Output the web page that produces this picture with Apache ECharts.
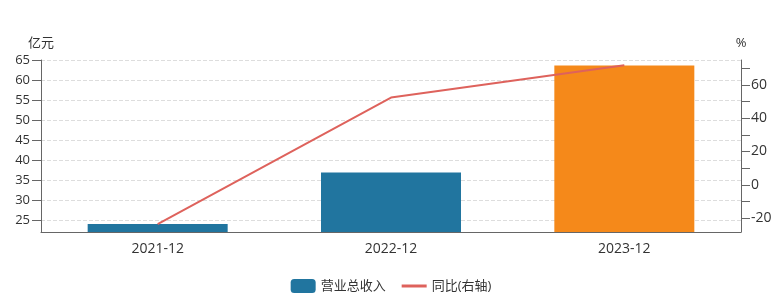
<!DOCTYPE html>
<html><head><meta charset="utf-8">
<script src="https://cdn.jsdelivr.net/npm/echarts@6/dist/echarts.min.js"></script>
<style>html,body{margin:0;padding:0;background:#fff}#c{width:782px;height:302px}</style>
</head><body><div id="c"></div>
<script>
var categories = ['2021-12', '2022-12', '2023-12'];
var revenue = [24.0, 36.9, 63.6];
var yoy = [-23.6, 52.4, 71.9];
var barColors = ['#21759f', '#21759f', '#f5891a'];
var leftMin = 22, leftMax = 65;
var rightMin = -28.4, rightMax = 75;

var chart = echarts.init(document.getElementById('c'));
var fontFam = '"Open Sans", "Noto Sans CJK SC", sans-serif';
chart.setOption({
  animation: false,
  textStyle: {fontFamily: fontFam},
  grid: {left: 41, right: 41, top: 60, bottom: 70},
  legend: {
    top: 274, left: 'center', itemWidth: 25, itemHeight: 14, itemGap: 16,
    textStyle: {fontSize: 13, color: '#333', fontFamily: fontFam},
    data: [{name: '营业总收入', icon: 'roundRect'},
           {name: '同比(右轴)', icon: 'path://M0,0 L25,0 L25,3 L0,3 Z', itemStyle: {color: '#de625c'}}]
  },
  xAxis: {
    type: 'category', data: categories,
    axisLine: {onZero: false, lineStyle: {color: '#666'}},
    axisTick: {alignWithLabel: true, length: 5, lineStyle: {color: '#666'}},
    axisLabel: {color: '#333', fontSize: 14, margin: 10}
  },
  yAxis: [{
    type: 'value', name: '亿元', min: leftMin, max: leftMax, splitNumber: 9,
    nameTextStyle: {color: '#333', fontSize: 13}, nameGap: 10,
    axisLine: {show: true, lineStyle: {color: '#666'}},
    axisTick: {show: true, length: 9, lineStyle: {color: '#666'}},
    axisLabel: {color: '#333', fontSize: 13, margin: 11, showMinLabel: false,
      formatter: function (v) { return v % 5 === 0 ? v : ''; }},
    splitLine: {show: true, lineStyle: {type: 'dashed', color: '#ddd'}}
  }, {
    type: 'value', name: '%', min: rightMin, max: rightMax, splitNumber: 10,
    nameTextStyle: {color: '#333', fontSize: 13}, nameGap: 10,
    axisLine: {show: true, lineStyle: {color: '#666'}},
    axisTick: {show: true, length: 9, lineStyle: {color: '#666'}},
    axisLabel: {color: '#333', fontSize: 14, margin: 10, showMinLabel: false, showMaxLabel: false,
      formatter: function (v) { return (Math.abs(v % 20) < 1e-9) ? v : ''; }},
    splitLine: {show: false}
  }],
  series: [{
    name: '营业总收入', type: 'bar', barWidth: '60%',
    itemStyle: {color: '#21759f'},
    data: revenue.map(function (v, i) { return {value: v, itemStyle: {color: barColors[i]}}; })
  }, {
    name: '同比(右轴)', type: 'line', yAxisIndex: 1, data: yoy,
    symbol: 'none', itemStyle: {color: '#de625c'},
    lineStyle: {color: '#de625c', width: 2}
  }]
});
</script></body></html>
